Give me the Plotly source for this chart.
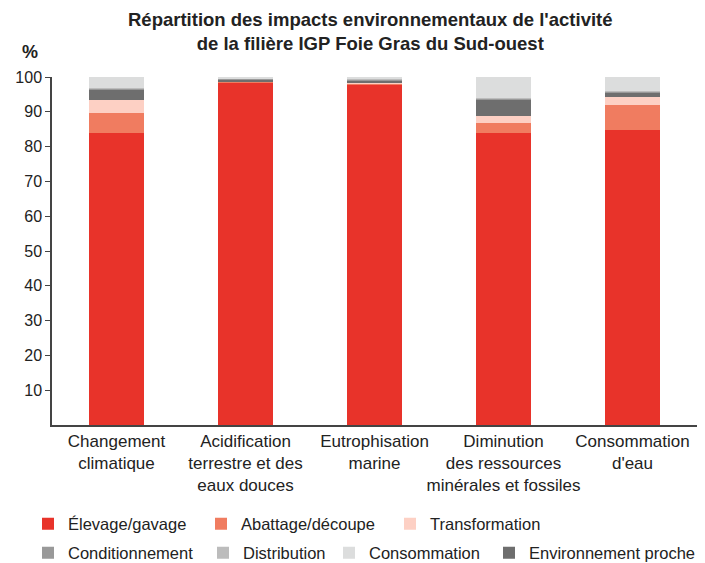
import plotly.graph_objects as go

categories = ["Changement<br>climatique", "Acidification<br>terrestre et des<br>eaux douces",
              "Eutrophisation<br>marine", "Diminution<br>des ressources<br>minérales et fossiles",
              "Consommation<br>d'eau"]

elevage = [84.0, 98.3, 97.8, 84.0, 84.8]
abattage = [5.8, 0.3, 0.4, 2.7, 7.1]
transformation = [3.6, 0.2, 0.3, 2.2, 2.4]
env_proche = [3.0, 0.4, 0.5, 4.7, 1.2]
conditionnement = [0.3, 0.3, 0.4, 0.3, 0.4]
distribution = [0.2, 0.2, 0.3, 0.2, 0.2]
consommation = [3.1, 0.3, 0.3, 5.9, 3.9]

series = [
    ("Élevage/gavage", elevage, "#e8332a", 68, 524),
    ("Abattage/découpe", abattage, "#f07c60", 241, 524),
    ("Transformation", transformation, "#fdd0c4", 430, 524),
    ("Environnement proche", env_proche, "#6e6e6e", 529, 553),
    ("Conditionnement", conditionnement, "#999999", 68, 553),
    ("Distribution", distribution, "#bcbcbc", 243, 553),
    ("Consommation", consommation, "#dcdddd", 369, 553),
]

OFF = 8  # page body margin
W, H = 705 - OFF, 563 - OFF
L, T = 52 - OFF, 77 - OFF
R = W - (697 - OFF)
B = H - (425 - OFF)
pw, ph = W - L - R, H - T - B


def px_x(x):
    return (x - OFF - L) / pw


def px_y(y):
    return (H - B - (y - OFF)) / ph


fig = go.Figure()
layout_legends = {}
for i, (name, vals, col, tx, ty) in enumerate(series):
    lname = "legend" if i == 0 else f"legend{i+1}"
    fig.add_trace(go.Bar(x=categories, y=vals, name=name, marker_color=col,
                         marker_line_width=0, legend=lname, width=0.43))
    layout_legends[lname] = dict(
        xref="container", yref="container",
        x=(tx - 48) / W, y=1 - (ty - OFF) / H,
        xanchor="left", yanchor="middle", bgcolor="rgba(0,0,0,0)",
        font=dict(family="Liberation Sans, Arial", size=16.5, color="#222"),
        itemwidth=30, orientation="h")

fig.update_layout(
    barmode="stack",
    width=W, height=H,
    margin=dict(l=L, r=R, t=T, b=B, autoexpand=False),
    plot_bgcolor="white", paper_bgcolor="white",
    font=dict(family="Liberation Sans, Arial", size=16, color="#222"),
    showlegend=True,
    **layout_legends,
)
fig.update_xaxes(showline=True, linecolor="#444", linewidth=1.5, ticks="",
                 tickangle=0, tickfont=dict(size=17))
fig.update_yaxes(range=[0, 100], tickvals=[10, 20, 30, 40, 50, 60, 70, 80, 90, 100],
                 showline=True, linecolor="#444", linewidth=1.5, ticks="outside",
                 ticklen=5, tickcolor="#444", showgrid=False, zeroline=False,
                 tickfont=dict(size=16))
fig.add_annotation(text="<b>Répartition des impacts environnementaux de l'activité<br>de la filière IGP Foie Gras du Sud-ouest</b>",
                   xref="paper", yref="paper", x=px_x(370), y=px_y(31.5),
                   showarrow=False, font=dict(size=18.5, color="#222"),
                   xanchor="center", yanchor="middle")
fig.add_annotation(text="<b>%</b>", xref="paper", yref="paper", x=px_x(30),
                   y=px_y(52), showarrow=False, font=dict(size=18),
                   xanchor="center", yanchor="middle")
fig.write_html("out.html")
